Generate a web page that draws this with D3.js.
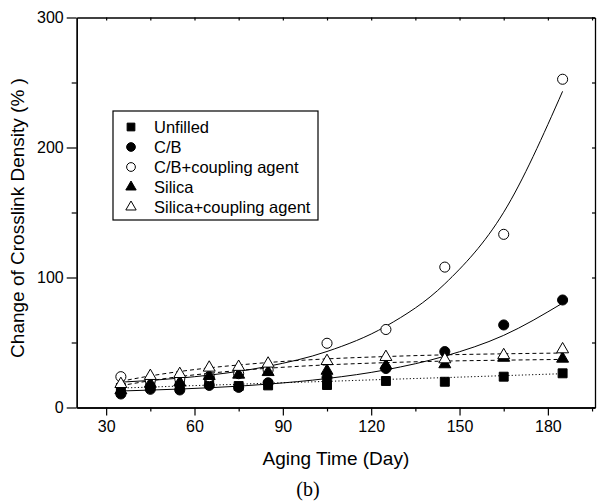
<!DOCTYPE html>
<html>
<head>
<meta charset="utf-8">
<script src="https://cdn.jsdelivr.net/npm/d3@7"></script>
<style>
  body { margin: 0; background: #fff; }
  svg text { font-family: "Liberation Sans", Arial, sans-serif; fill: #000; }
</style>
</head>
<body>
<div id="chart"></div>
<script>
// aging days
const days = [35, 45, 55, 65, 75, 85, 105, 125, 145, 165, 185];

// measured points, change of crosslink density (%)
const unfilled   = [15, 17, 17, 20, 16.5, 17, 17.3, 20.4, 19.8, 23.7, 26.3];
const cb         = [10.4, 14, 13.5, 17, 15.5, 19, 23, 30, 43, 63.5, 82.7];
const cbCoupling = [23.7, 21, 22, 23.7, 26, 29, 49.4, 60, 108, 133.2, 252.5];
const silica     = [14, 19, 20, 25, 26, 28, 29, 33, 34, 39, 38.3];
const silicaCoupling = [18.8, 25, 26.5, 31.4, 32, 34.5, 36.5, 39.6, 37.8, 41, 45.5];

// fitted curves read at the same days
const fitUnfilled = [15, 15.7, 16.5, 17.2, 17.9, 18.7, 20.1, 21.6, 23, 24.5, 26];
const fitCb       = [12.7, 13.4, 14.2, 15.2, 16.4, 18, 22.3, 29, 39.5, 55.5, 80.3];
const fitCbCoupling = [19.5, 20.8, 22.6, 24.9, 27.8, 31.7, 43.1, 62.5, 95.1, 150.2, 243.2];
const fitSilica   = [16.8, 20.6, 23.8, 26.3, 28.5, 30.2, 32.8, 34.5, 35.7, 36.4, 37];
const fitSilicaCoupling = [20.2, 24.3, 27.7, 30.5, 32.7, 34.6, 37.4, 39.2, 40.5, 41.3, 41.9];

const xTicks = [30, 60, 90, 120, 150, 180];
const xMinor = [45, 75, 105, 135, 165, 195];
const yTicks = [0, 100, 200, 300];
const yMinor = [50, 150, 250];

const series = [
  {name: "Unfilled", vals: unfilled, fit: fitUnfilled, sym: "square", fill: "#000", dash: "1.2,2.2"},
  {name: "C/B", vals: cb, fit: fitCb, sym: "circle", fill: "#000", dash: null},
  {name: "C/B+coupling agent", vals: cbCoupling, fit: fitCbCoupling, sym: "circle", fill: "#fff", dash: null},
  {name: "Silica", vals: silica, fit: fitSilica, sym: "triangle", fill: "#000", dash: "4,3"},
  {name: "Silica+coupling agent", vals: silicaCoupling, fit: fitSilicaCoupling, sym: "triangle", fill: "#fff", dash: "4,3"}
];

const w = 607, h = 501;
const padL = 76.7, padR = 595, padT = 17.5, padB = 407.5;

const svg = d3.select("#chart").append("svg")
  .attr("width", w)
  .attr("height", h);

const x = d3.scaleLinear().domain([20, 196]).range([padL, padR]);
const y = d3.scaleLinear().domain([0, 300]).range([padB, padT]);

const symbolFor = s => s == "square" ? d3.symbolSquare : s == "circle" ? d3.symbolCircle : d3.symbolTriangle;
const sizeFor = s => s == "square" ? 80 : s == "circle" ? 80 : 62;

// fitted curves
const line = d3.line()
  .x((d, i) => x(days[i]))
  .y(d => y(d))
  .curve(d3.curveMonotoneX);

series.forEach(s => {
  svg.append("path")
    .attr("d", line(s.fit))
    .attr("fill", "none")
    .attr("stroke", "#000")
    .attr("stroke-width", 1)
    .attr("stroke-dasharray", s.dash);
});

// markers
series.forEach(s => {
  svg.append("g").selectAll("path")
    .data(s.vals)
    .enter()
    .append("path")
    .attr("d", d3.symbol().type(symbolFor(s.sym)).size(sizeFor(s.sym)))
    .attr("transform", (d, i) => "translate(" + x(days[i]) + "," + (y(d) + (s.sym == "triangle" ? 1 : 0)) + ")")
    .attr("fill", s.fill)
    .attr("stroke", "#000")
    .attr("stroke-width", 1);
});

// axes
const styleAxis = g => {
  g.select(".domain").attr("stroke-width", 1.3);
  g.selectAll("line").attr("stroke-width", 1.2);
  g.selectAll("text").style("font-size", "16px").style("font-family", "Liberation Sans, Arial, sans-serif");
};

svg.append("g")
  .attr("transform", "translate(0," + padB + ")")
  .call(d3.axisBottom(x).tickValues(xTicks).tickSize(8).tickSizeOuter(0).tickPadding(5))
  .call(styleAxis);
svg.append("g")
  .attr("transform", "translate(0," + padB + ")")
  .call(d3.axisBottom(x).tickValues(xMinor).tickSize(4).tickSizeOuter(0).tickFormat(""))
  .call(styleAxis);

svg.append("g")
  .attr("transform", "translate(" + padL + ",0)")
  .call(d3.axisLeft(y).tickValues(yTicks).tickSize(10).tickSizeOuter(0).tickPadding(3))
  .call(styleAxis);
svg.append("g")
  .attr("transform", "translate(" + padL + ",0)")
  .call(d3.axisLeft(y).tickValues(yMinor).tickSize(5).tickSizeOuter(0).tickFormat(""))
  .call(styleAxis);

// top and right frame with inward ticks
svg.append("g")
  .attr("transform", "translate(0," + padT + ")")
  .call(d3.axisBottom(x).tickValues(xTicks.concat(xMinor)).tickSize(3).tickSizeOuter(0).tickFormat(""))
  .call(styleAxis);
svg.append("g")
  .attr("transform", "translate(" + padR + ",0)")
  .call(d3.axisLeft(y).tickValues(yTicks.concat(yMinor)).tickSize(3).tickSizeOuter(0).tickFormat(""))
  .call(styleAxis);

// axis titles
svg.append("text")
  .attr("x", (padL + padR) / 2)
  .attr("y", 465)
  .attr("text-anchor", "middle")
  .style("font-size", "19px")
  .text("Aging Time (Day)");

svg.append("text")
  .attr("transform", "translate(24," + 218 + ") rotate(-90)")
  .attr("text-anchor", "middle")
  .style("font-size", "19px")
  .text("Change of Crosslink Density (% )");

svg.append("text")
  .attr("x", 308)
  .attr("y", 496)
  .attr("text-anchor", "middle")
  .style("font-family", "Liberation Serif, Times New Roman, serif")
  .style("font-size", "20px")
  .text("(b)");

// legend
let legend = svg.append("g").attr("id", "legend");
legend.append("rect")
  .attr("x", 113).attr("y", 111)
  .attr("width", 205).attr("height", 109)
  .attr("fill", "#fff")
  .attr("stroke", "#000")
  .attr("stroke-width", 1.2);

series.forEach((s, i) => {
  legend.append("path")
    .attr("d", d3.symbol().type(symbolFor(s.sym)).size(sizeFor(s.sym) * 0.75))
    .attr("transform", "translate(131," + (127 + i * 20) + ")")
    .attr("fill", s.fill)
    .attr("stroke", "#000")
    .attr("stroke-width", 1);
  legend.append("text")
    .attr("x", 154)
    .attr("y", 127 + i * 20)
    .attr("dy", "0.35em")
    .style("font-size", "16.5px")
    .text(s.name);
});
</script>
</body>
</html>
